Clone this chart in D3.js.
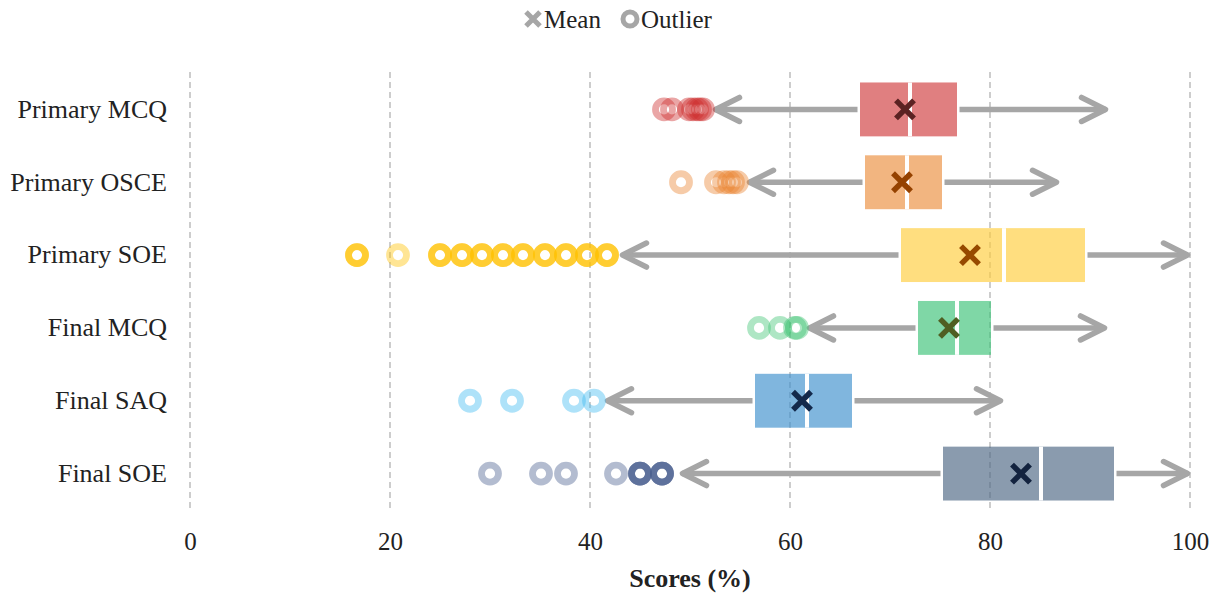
<!DOCTYPE html>
<html>
<head>
<meta charset="utf-8">
<script src="https://cdn.jsdelivr.net/npm/d3@7"></script>
<style>
  html, body { margin: 0; padding: 0; background: #fff; }
  svg { display: block; font-family: "Liberation Serif", "DejaVu Serif", serif; }
</style>
</head>
<body>
<svg id="chart" width="1218" height="597"></svg>
<script>
// ---- data ----
const categories = ["Primary MCQ", "Primary OSCE", "Primary SOE", "Final MCQ", "Final SAQ", "Final SOE"];
const q1         = [67.0, 67.5, 71.1, 72.8, 56.5, 75.3];
const medians    = [72.0, 71.7, 81.4, 76.7, 61.7, 85.1];
const q3         = [76.7, 75.2, 89.5, 80.1, 66.2, 92.4];
const whiskerLow = [52.3, 55.7, 43.0, 61.7, 41.5, 49.0];
const whiskerHigh= [91.8, 86.9, 100.0, 91.7, 81.3, 100.0];
const means      = [71.5, 71.2, 78.0, 75.9, 61.2, 83.1];
const outliers = [
  [47.4, 48.2, 49.9, 50.3, 50.7, 51.0, 51.3],
  [49.1, 52.6, 53.4, 53.9, 54.3, 54.7],
  [16.7, 16.7, 16.7, 20.8, 25.0, 25.0, 25.0, 27.2, 27.2, 27.2, 29.2, 29.2, 29.2, 31.3, 31.3, 31.3,
   33.3, 33.3, 33.3, 35.5, 35.5, 35.5, 37.6, 37.6, 37.6, 39.7, 39.7, 39.7, 41.7, 41.7, 41.7],
  [56.9, 59.0, 60.5, 60.7],
  [28.0, 32.2, 38.4, 40.4],
  [30.0, 35.1, 37.6, 42.6, 45.0, 45.0, 45.0, 45.0, 47.2, 47.2, 47.2, 47.2]
];
const xTicks = [0, 20, 40, 60, 80, 100];

// ---- styles ----
const baseColors   = ["#CF3A3C", "#EB8D3C", "#FFCC3A", "#3AC176", "#3C8FCC", "#4B6582"];
const outColors    = ["#CC2C2C", "#EA8230", "#FFC000", "#3EC373", "#3EBAF0", "#4A6090"];
const meanColors   = ["#5B2222", "#954200", "#974A00", "#4F5F22", "#13294B", "#13233F"];
const grey = "#A6A6A6";

const svg = d3.select("#chart");
const x = d3.scaleLinear().domain([0, 100]).range([190, 1190]);
const y = d3.scaleBand().domain(categories).range([73, 510]);
const boxH = y.bandwidth() * 0.74;
const cy = c => y(c) + y.bandwidth() / 2;

// gridlines
svg.append("g").selectAll("line").data(xTicks).join("line")
  .attr("x1", d => x(d)).attr("x2", d => x(d))
  .attr("y1", 72).attr("y2", 510)
  .attr("stroke", "#BDBDBD").attr("stroke-width", 1.5)
  .attr("stroke-dasharray", "6,4");

// x axis
const xAxis = svg.append("g").attr("transform", "translate(0,510)")
  .call(d3.axisBottom(x).tickValues(xTicks).tickSize(0).tickPadding(22).tickFormat(d3.format("d")));
xAxis.select(".domain").remove();
xAxis.selectAll("text").attr("font-size", 25).attr("fill", "#222")
  .attr("font-family", "Liberation Serif, serif");

// y axis
const yAxis = svg.append("g").attr("transform", "translate(190,0)")
  .call(d3.axisLeft(y).tickSize(0).tickPadding(23));
yAxis.select(".domain").remove();
yAxis.selectAll("text").attr("font-size", 26).attr("fill", "#222")
  .attr("font-family", "Liberation Serif, serif");

// axis title
svg.append("text").attr("x", 690).attr("y", 587).attr("text-anchor", "middle")
  .attr("font-size", 26).attr("font-weight", "bold").attr("fill", "#222")
  .text("Scores (%)");

const idx = categories.map((c, i) => i);

// boxes
svg.append("g").selectAll("rect").data(idx).join("rect")
  .attr("x", i => x(q1[i])).attr("width", i => x(q3[i]) - x(q1[i]))
  .attr("y", i => cy(categories[i]) - boxH / 2).attr("height", boxH)
  .attr("fill", i => baseColors[i]).attr("fill-opacity", 0.65);

// medians
svg.append("g").selectAll("line").data(idx).join("line")
  .attr("x1", i => x(medians[i])).attr("x2", i => x(medians[i]))
  .attr("y1", i => cy(categories[i]) - boxH / 2).attr("y2", i => cy(categories[i]) + boxH / 2)
  .attr("stroke", "#fff").attr("stroke-width", 4);

// whisker shafts
const gap = 2.5;
const wg = svg.append("g");
idx.forEach(i => {
  const c = cy(categories[i]);
  wg.append("line").attr("x1", x(q3[i]) + gap).attr("x2", x(whiskerHigh[i]) - 2)
    .attr("y1", c).attr("y2", c).attr("stroke", grey).attr("stroke-width", 5.5);
  wg.append("line").attr("x1", x(q1[i]) - gap).attr("x2", x(whiskerLow[i]) + 2)
    .attr("y1", c).attr("y2", c).attr("stroke", grey).attr("stroke-width", 5.5);
  // chevrons
  const hx = x(whiskerHigh[i]) - 2.5, lx = x(whiskerLow[i]) + 2.5;
  wg.append("path").attr("d", `M${hx - 24},${c - 12} L${hx},${c} L${hx - 24},${c + 12}`)
    .attr("fill", "none").attr("stroke", grey).attr("stroke-width", 5.5)
    .attr("stroke-linecap", "round").attr("stroke-linejoin", "round");
  wg.append("path").attr("d", `M${lx + 24},${c - 12} L${lx},${c} L${lx + 24},${c + 12}`)
    .attr("fill", "none").attr("stroke", grey).attr("stroke-width", 5.5)
    .attr("stroke-linecap", "round").attr("stroke-linejoin", "round");
});

// outliers
const og = svg.append("g");
idx.forEach(i => {
  og.append("g").selectAll("circle").data(outliers[i]).join("circle")
    .attr("cx", d => x(d)).attr("cy", cy(categories[i])).attr("r", 8.5)
    .attr("fill", "none").attr("stroke", outColors[i]).attr("stroke-width", 6.8)
    .attr("stroke-opacity", 0.42);
});

// means (X markers)
const xs = 9;
svg.append("g").selectAll("path").data(idx).join("path")
  .attr("d", i => {
    const mx = x(means[i]), my = cy(categories[i]);
    return `M${mx - xs},${my - xs} L${mx + xs},${my + xs} M${mx - xs},${my + xs} L${mx + xs},${my - xs}`;
  })
  .attr("stroke", i => meanColors[i]).attr("stroke-width", 5.5).attr("fill", "none");

// legend
const lg = svg.append("g");
lg.append("path").attr("d", "M526,12 L540,26 M526,26 L540,12")
  .attr("stroke", grey).attr("stroke-width", 5).attr("fill", "none");
lg.append("text").attr("x", 544).attr("y", 28).attr("font-size", 25).attr("fill", "#222").text("Mean");
lg.append("circle").attr("cx", 630).attr("cy", 19).attr("r", 7)
  .attr("fill", "none").attr("stroke", grey).attr("stroke-width", 5);
lg.append("text").attr("x", 641).attr("y", 28).attr("font-size", 25).attr("fill", "#222").text("Outlier");
</script>
</body>
</html>
